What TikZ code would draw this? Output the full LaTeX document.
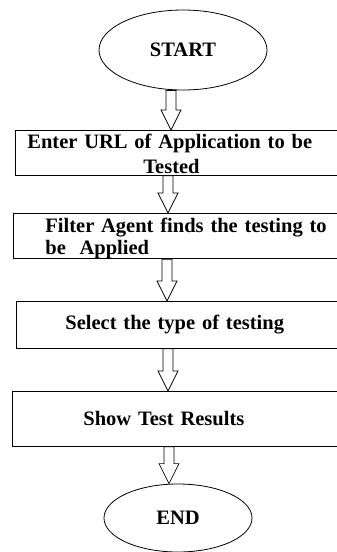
\documentclass[tikz,border=0pt]{standalone}
\usepackage{fontspec}
\setmainfont{Liberation Serif}
\usepackage{tikz}
\usetikzlibrary{shapes.geometric, calc}
\tikzstyle{terminal} = [ellipse, draw=black, line width=0.8pt, inner sep=0pt, font=\bfseries\fontsize{20.5}{23}\selectfont]
\tikzstyle{process} = [rectangle, draw=black, line width=0.8pt, anchor=north west, inner sep=0pt, minimum width=330pt, text width=330pt, align=left, font=\bfseries\fontsize{20.5}{23}\selectfont]
\tikzstyle{hollow} = [draw=black, line width=0.7pt, fill=white]

\begin{document}
\begin{tikzpicture}[x=1pt, y=-1pt]
  \clip (0,0) rectangle (337,552);
  \node[terminal, minimum width=168pt, minimum height=80pt] (start) at (183,50) {START};
  \node[process, minimum height=45pt] (enter) at (15,130) {\rule{0pt}{17pt}\hspace*{12pt}Enter URL of Application to be\\[2pt]\hspace*{128pt}Tested};
  \node[process, minimum height=45pt] (filter) at (13,213) {\rule{0pt}{19pt}\hspace*{32pt}Filter Agent finds the testing to\\[-1pt]\hspace*{32pt}be\ \ Applied};
  \node[process, minimum height=47pt] (select) at (16,301) {\hspace*{49pt}Select the type of testing};
  \node[process, minimum height=55pt] (show) at (12,391) {\hspace*{71pt}Show Test Results};
  \node[terminal, minimum width=148pt, minimum height=68pt] (finish) at (178,518) {END};

  % block arrows between the steps
  \foreach \a/\b/\x in {start/enter/171, enter/filter/168, filter/select/167, select/show/168, show/finish/169}{
    \path (\x,0 |- \a.south) coordinate (top) (\x,0 |- \b.north) coordinate (tip);
    \draw[hollow] ($(top)+(-5,0)$) -- ($(top)+(5,0)$) -- ($(tip)+(5,-20)$) -- ($(tip)+(10,-20)$)
      -- (tip) -- ($(tip)+(-10,-20)$) -- ($(tip)+(-5,-20)$) -- cycle;
  }
\end{tikzpicture}
\end{document}
